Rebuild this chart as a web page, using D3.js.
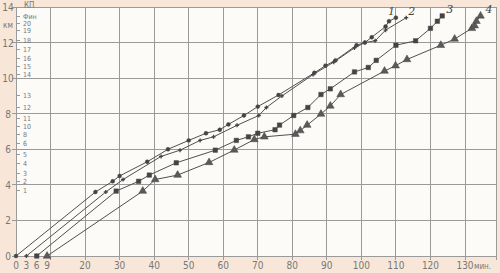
<!DOCTYPE html>
<html lang="ru">
<head>
<meta charset="UTF-8">
<title>График движения</title>
<style>
  body { margin: 0; background: #f8e7d8; }
  svg { display: block; }
  .grid line { stroke: #9a9a9a; stroke-width: 1; shape-rendering: crispEdges; }
  .lbl { fill: #777; font-family: "Liberation Sans Narrow", "DejaVu Sans Condensed", sans-serif; }
  .series path.ln { fill: none; stroke: #505050; stroke-width: 1; }
  .num { fill: #444; font-family: "DejaVu Serif", serif; font-style: italic; font-size: 11px; }
</style>
</head>
<body>
<script src="https://d3js.org/d3.v7.min.js"></script>
<script>
var width = 500, height = 273;

// время, мин (ось X) и путь, км (ось Y)
var xTicks = [0, 3, 6, 9, 20, 30, 40, 50, 60, 70, 80, 90, 100, 110, 120, 130];
var xGrid = [10, 20, 30, 40, 50, 60, 70, 80, 90, 100, 110, 120, 130];
var yTicks = [0, 2, 4, 6, 8, 10, 12, 14];
// пункты на дистанции
var stationNames = ["Фин", "20", "19", "18", "17", "16", "15", "14", "13", "12", "11", "10", "8", "6", "5", "4", "3", "2", "1"];
var stationKm = [13.48, 13.1, 12.7, 12.13, 11.63, 11.1, 10.67, 10.22, 9.04, 8.37, 7.75, 7.3, 6.85, 6.35, 5.73, 5.22, 4.66, 4.2, 3.7];

var s1 = [[0,0],[23,3.6],[28,4.2],[30,4.5],[38,5.3],[44,6.0],[50,6.5],[55,6.9],[59,7.1],[61.5,7.4],[66,7.9],[70,8.4],[76,9.05],[86.4,10.3],[89.6,10.7],[92.5,11.0],[98.6,11.85],[101,12.0],[103,12.3],[107,12.9],[108,13.2],[110,13.4]];
var s2 = [[3,0],[26,3.6],[31,4.3],[42,5.6],[47.5,5.95],[53.3,6.5],[57.2,6.7],[64,7.35],[70.3,7.9],[72.5,8.35],[77,9.0],[86,10.2],[92,10.9],[98,11.7],[101,12.0],[104,12.1],[107,12.7],[113,13.4]];
var s3 = [[6,0],[29,3.65],[35.5,4.2],[38.6,4.55],[46.4,5.24],[57.7,5.95],[63.8,6.5],[67.3,6.7],[70,6.9],[75,7.1],[76.3,7.36],[80.4,7.9],[84.5,8.35],[88.3,9.08],[91,9.4],[98,10.35],[102,10.6],[104.3,11.0],[110,11.85],[115.7,12.1],[120,12.8],[122,13.2],[123.4,13.5]];
var s4 = [[9,0],[36.7,3.65],[40.3,4.3],[46.8,4.55],[55.9,5.26],[63.2,5.96],[69,6.55],[71.9,6.7],[80.9,6.85],[82.3,7.05],[84.3,7.36],[88.3,7.98],[91,8.44],[94,9.08],[106.7,10.4],[109.9,10.7],[113.2,11.05],[123,11.85],[127,12.2],[132,12.8],[132.8,12.95],[133.3,13.2],[134.5,13.5]];
var seriesNames = ["1", "2", "3", "4"];

var x = d3.scaleLinear().domain([0, 130]).range([16, 465]);
var y = d3.scaleLinear().domain([0, 14]).range([256, 7]);
var xMax = 139;

var svg = d3.select("body").append("svg").attr("width", width).attr("height", height);

// бумага
svg.append("rect").attr("x", x(0)).attr("y", y(14))
  .attr("width", x(xMax) - x(0)).attr("height", y(0) - y(14)).attr("fill", "#fcfbf8");

var grid = svg.append("g").attr("class", "grid");
grid.selectAll(".v").data(xGrid.concat([xMax])).enter().append("line")
  .attr("x1", function (d) { return x(d); }).attr("x2", function (d) { return x(d); })
  .attr("y1", y(14)).attr("y2", y(0) + 4);
grid.selectAll(".h").data(yTicks).enter().append("line")
  .attr("x1", x(0) - 4).attr("x2", x(xMax))
  .attr("y1", function (d) { return y(d); }).attr("y2", function (d) { return y(d); });
grid.append("line").attr("x1", x(0)).attr("x2", x(0)).attr("y1", y(14)).attr("y2", y(0));
grid.selectAll(".st").data(stationKm).enter().append("line")
  .attr("x1", x(0)).attr("x2", x(0) + 4)
  .attr("y1", function (d) { return y(d); }).attr("y2", function (d) { return y(d); });

// подписи осей
svg.selectAll(".yl").data(yTicks).enter().append("text").attr("class", "lbl")
  .attr("x", 8).attr("y", function (d) { return y(d) + 4; })
  .attr("text-anchor", "middle").attr("font-size", 10)
  .text(function (d) { return d; });
svg.append("text").attr("class", "lbl").attr("x", 8).attr("y", 28)
  .attr("text-anchor", "middle").attr("font-size", 8).text("км");
svg.append("text").attr("class", "lbl").attr("x", 24).attr("y", 8)
  .attr("font-size", 8).text("КП");
svg.selectAll(".sl").data(stationNames).enter().append("text").attr("class", "lbl")
  .attr("x", x(0) + 7).attr("y", function (d, i) { return y(stationKm[i]) + 2.5; })
  .attr("font-size", 7).text(function (d) { return d; });

svg.selectAll(".xl").data(xTicks).enter().append("text").attr("class", "lbl")
  .attr("x", function (d) { return x(d); }).attr("y", 269)
  .attr("text-anchor", "middle").attr("font-size", 10)
  .text(function (d) { return d; });
svg.append("text").attr("class", "lbl").attr("x", x(130) + 9).attr("y", 269)
  .attr("font-size", 8).text("мин.");

// линии движения
var line = d3.line().x(function (d) { return x(d[0]); }).y(function (d) { return y(d[1]); });
var all = [s1, s2, s3, s4];
var shapes = [d3.symbolCircle, d3.symbolCross, d3.symbolSquare, d3.symbolTriangle];
var sizes = [12, 9, 20, 26];
var labelDx = [-8, 2, 4, 5];

all.forEach(function (data, k) {
  var g = svg.append("g").attr("class", "series");
  g.append("path").attr("class", "ln").datum(data).attr("d", line);
  g.selectAll("path.m").data(data).enter().append("path").attr("class", "m")
    .attr("transform", function (d) { return "translate(" + x(d[0]) + "," + y(d[1]) + ")"; })
    .attr("d", d3.symbol().type(shapes[k]).size(sizes[k]))
    .attr("fill", k == 3 ? "#5a5a5a" : "#444")
    .attr("stroke", "#444").attr("stroke-width", k == 1 ? 0 : 0.5);
  var last = data[data.length - 1];
  svg.append("text").attr("class", "num")
    .attr("x", x(last[0]) + labelDx[k]).attr("y", y(last[1]) - 3)
    .text(seriesNames[k]);
});
</script>
</body>
</html>
